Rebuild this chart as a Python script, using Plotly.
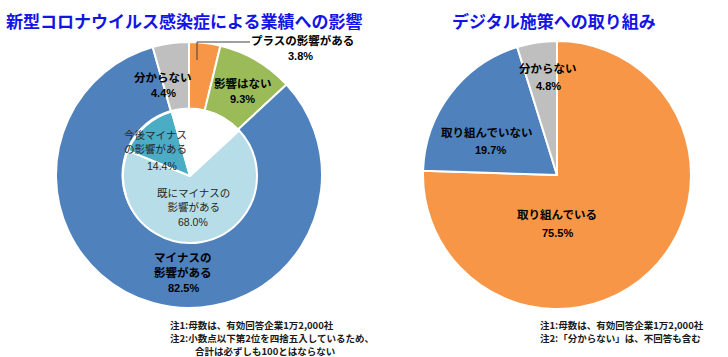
import plotly.graph_objects as go

W, H = 728, 357

# ---- data ----
left_title = "新型コロナウイルス感染症による業績への影響"
right_title = "デジタル施策への取り組み"

outer_labels = ["プラスの影響がある", "影響はない", "マイナスの<br>影響がある", "分からない"]
outer_values = [3.8, 9.3, 82.5, 4.4]

inner_labels = ["既にマイナスの<br>影響がある", "今後マイナス<br>の影響がある"]
inner_values = [68.0, 14.4]

right_labels = ["取り組んでいる", "取り組んでいない", "分からない"]
right_values = [75.5, 19.7, 4.8]

left_notes = ["注1:母数は、有効回答企業1万2,000社",
              "注2:小数点以下第2位を四捨五入しているため、",
              "合計は必ずしも100とはならない"]
right_notes = ["注1:母数は、有効回答企業1万2,000社",
               "注2:「分からない」は、不回答も含む"]

# ---- styles ----
outer_colors = ["#F79646", "#9BBB59", "#4F81BD", "#BFBFBF"]
inner_colors = ["#FFFFFF", "#FFFFFF", "#B7DEE8", "#4BACC6", "#FFFFFF"]
right_colors = ["#F79646", "#4F81BD", "#BFBFBF"]
JP = "Noto Sans CJK JP"
NUM = "Liberation Sans, Noto Sans CJK JP"


def dom_x(a, b):
    return [a / W, b / W]


def dom_y(top, bottom):
    return [1 - bottom / H, 1 - top / H]


fig = go.Figure()

fig.add_trace(go.Pie(
    values=outer_values, labels=outer_labels, sort=False, direction="clockwise",
    rotation=0, hole=0.5, textinfo="none", hoverinfo="label+value",
    marker=dict(colors=outer_colors, line=dict(color="white", width=2)),
    domain=dict(x=dom_x(56, 322), y=dom_y(42, 308)), showlegend=False,
))

inner_full = [outer_values[0], outer_values[1], inner_values[0], inner_values[1], outer_values[3]]
fig.add_trace(go.Pie(
    values=inner_full, labels=["p", "n", "a", "b", "u"], sort=False, direction="clockwise",
    rotation=0, textinfo="none", hoverinfo="skip",
    marker=dict(colors=inner_colors, line=dict(color="white", width=2)),
    domain=dict(x=dom_x(123, 257), y=dom_y(109, 243)), showlegend=False,
))

fig.add_trace(go.Pie(
    values=right_values, labels=right_labels, sort=False, direction="clockwise",
    rotation=0, textinfo="none", hoverinfo="label+value",
    marker=dict(colors=right_colors, line=dict(color="white", width=2)),
    domain=dict(x=dom_x(423, 691), y=dom_y(41, 309)), showlegend=False,
))

ann = []


def add(text, x, y, size=11.5, bold=True, color="#000000", family=JP, xanchor="center"):
    t = f"<b>{text}</b>" if bold else text
    ann.append(dict(text=t, x=x / W, y=1 - y / H, xref="paper", yref="paper",
                    showarrow=False, xanchor=xanchor, yanchor="middle",
                    font=dict(size=size, color=color, family=family)))


def pct(v):
    return f"{v:.1f}%"


# titles
add(left_title, 184, 20, size=17, color="#1414E6")
add(right_title, 554, 20, size=17, color="#1414E6")

# outer left labels
add(outer_labels[0], 302, 40)
add(pct(outer_values[0]), 300, 56, family=NUM, size=11)
add(outer_labels[1], 243, 83)
add(pct(outer_values[1]), 243, 99, family=NUM, size=11)
add(outer_labels[3], 163, 77)
add(pct(outer_values[3]), 163, 93, family=NUM, size=11)
add(outer_labels[2], 183, 264)
add(pct(outer_values[2]), 183, 288, family=NUM, size=11)

# inner labels
add(inner_labels[1], 155, 142, size=10.5, bold=False, color="#262626")
add(pct(inner_values[1]), 162, 166, size=10.5, bold=False, color="#262626", family=NUM)
add(inner_labels[0], 193, 199, size=10.5, bold=False, color="#262626")
add(pct(inner_values[0]), 193, 222, size=10.5, bold=False, color="#262626", family=NUM)

# right labels
add(right_labels[2], 548, 68)
add(pct(right_values[2]), 548, 86, family=NUM, size=11)
add(right_labels[1], 487, 132)
add(pct(right_values[1]), 490, 150, family=NUM, size=11)
add(right_labels[0], 557, 214)
add(pct(right_values[0]), 557, 233, family=NUM, size=11)

# notes
add(left_notes[0], 168, 325, size=9.5, xanchor="left", color="#1a1a1a")
add(left_notes[1], 168, 338, size=9.5, xanchor="left", color="#1a1a1a")
add(left_notes[2], 193, 351, size=9.5, xanchor="left", color="#1a1a1a")
add(right_notes[0], 538, 325, size=9.5, xanchor="left", color="#1a1a1a")
add(right_notes[1], 538, 338, size=9.5, xanchor="left", color="#1a1a1a")

shapes = [dict(type="path", xref="paper", yref="paper",
               path=f"M {197/W},{1-60/H} L {197/W},{1-42/H} L {250/W},{1-42/H}",
               line=dict(color="#404040", width=1))]

fig.update_layout(
    width=W, height=H, margin=dict(l=0, r=0, t=0, b=0),
    paper_bgcolor="white", plot_bgcolor="white",
    annotations=ann, shapes=shapes,
)

fig.write_html(
    "out.html",
    config={"displayModeBar": False},
    post_script="document.body.style.margin='0px';document.body.style.overflow='hidden';",
)
